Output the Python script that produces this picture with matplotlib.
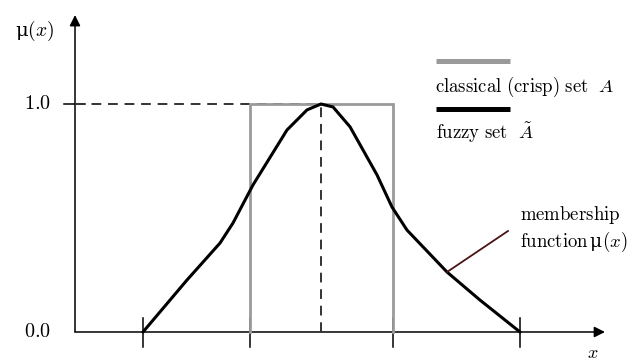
import numpy as np
import matplotlib
matplotlib.use('Agg')
import matplotlib.pyplot as plt
from matplotlib.patches import FancyArrowPatch

plt.rcParams['mathtext.fontset'] = 'cm'
plt.rcParams['font.family'] = 'DejaVu Serif'

# fuzzy membership function
fuzzy_x = [0.68, 1.12, 1.45, 1.58, 1.78, 2.12, 2.32, 2.46, 2.58, 2.75, 3.02, 3.17, 3.32, 3.72, 4.05, 4.45]
fuzzy_mu = [0.0, 0.228, 0.39, 0.478, 0.645, 0.886, 0.974, 1.0, 0.987, 0.90, 0.689, 0.548, 0.447, 0.263, 0.14, 0.0]

# classical (crisp) set
crisp_x = [1.75, 1.75, 3.18, 3.18]
crisp_mu = [0.0, 1.0, 1.0, 0.0]

x_ticks = [0.68, 1.75, 3.18, 4.45]
peak_x = 2.46
y_tick_labels = ['0.0', '1.0']

fig = plt.figure(figsize=(6.33, 3.64), dpi=100)
ax = fig.add_axes([0, 0, 1, 1])
ax.set_xlim(-0.75, 5.58)
ax.set_ylim(-0.1404, 1.4561)
ax.axis('off')

gray = '#9a9a9a'

# axes with arrows
for tip in [(5.30, 0), (0, 1.39)]:
    ax.add_patch(FancyArrowPatch((0, 0), tip, arrowstyle='-|>', color='black', lw=1.1,
                                 mutation_scale=16, shrinkA=0, shrinkB=0))

# ticks
for xt in x_ticks:
    ax.plot([xt, xt], [-0.066, 0.061], color='black', lw=1.1)
ax.plot([-0.11, 0.10], [1.0, 1.0], color='black', lw=1.1)

# dashed guides to the peak
ax.plot([0, peak_x], [1.0, 1.0], color='#333333', lw=1.4, dashes=(5, 3.5))
ax.plot([peak_x, peak_x], [0, 1.0], color='#333333', lw=1.4, dashes=(5, 3.5))

# crisp set and fuzzy set
ax.plot(crisp_x, crisp_mu, color=gray, lw=2.0, solid_joinstyle='miter')
ax.plot(fuzzy_x, fuzzy_mu, color='black', lw=2.2, solid_capstyle='round', solid_joinstyle='round')

# tick labels
ax.text(-0.245, 1.0, r'$\mathrm{' + y_tick_labels[1] + '}$', ha='right', va='center', fontsize=14.5)
ax.text(-0.245, 0.0, r'$\mathrm{' + y_tick_labels[0] + '}$', ha='right', va='center', fontsize=14.5)

# axis labels
ax.text(-0.40, 1.32, r'μ$(x)$', ha='center', va='center', fontsize=14)
ax.text(5.18, -0.093, r'$x$', ha='center', va='center', fontsize=13)

# legend
ax.plot([3.61, 4.35], [1.189, 1.189], color=gray, lw=3.6, solid_capstyle='butt')
ax.text(3.60, 1.075, r'$\mathrm{classical\ (crisp)\ set}\ \ A$', ha='left', va='center', fontsize=13.5)
ax.plot([3.61, 4.35], [0.978, 0.978], color='black', lw=3.6, solid_capstyle='butt')
ax.text(3.61, 0.875, r'$\mathrm{fuzzy\ set}\ \ \tilde{A}$', ha='left', va='center', fontsize=13.5)

# membership function annotation
ax.plot([3.72, 4.33], [0.263, 0.443], color='#4a1414', lw=1.3)
ax.text(4.45, 0.513, r'$\mathrm{membership}$', ha='left', va='center', fontsize=13.5)
ax.text(4.45, 0.395, r'$\mathrm{function}\,$μ$(x)$', ha='left', va='center', fontsize=13.5)

fig.savefig('out.png', dpi=100)
